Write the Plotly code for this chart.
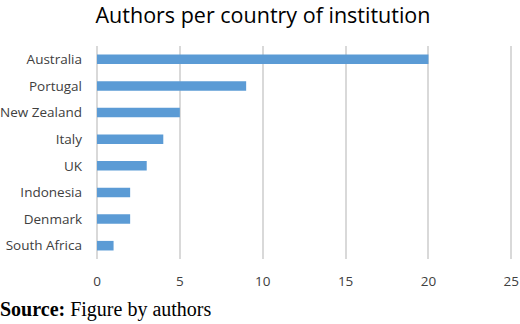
import plotly.graph_objects as go

countries = ["Australia", "Portugal", "New Zealand", "Italy", "UK", "Indonesia", "Denmark", "South Africa"]
authors = [20, 9, 5, 4, 3, 2, 2, 1]
x_ticks = [0, 5, 10, 15, 20, 25]

W, H = 520, 324
L, R, T, B = 97, 7, 46, 65

fig = go.Figure(go.Bar(
    x=authors, y=countries, orientation="h",
    marker=dict(color="#5B9BD5", line=dict(width=0)),
    width=0.36,
))

fig.update_layout(
    width=W, height=H,
    margin=dict(l=L, r=R, t=T, b=B, autoexpand=False),
    paper_bgcolor="white", plot_bgcolor="white",
    font=dict(family="Open Sans, Noto Sans, sans-serif", color="#595959", size=13.5),
    title=dict(text="Authors per country of institution", x=263 / W, xanchor="center",
               y=1 - 15 / H, yanchor="middle", xref="container", yref="container",
               font=dict(size=21.5, color="#000000", family="Open Sans, Noto Sans, sans-serif")),
    showlegend=False,
)
fig.update_xaxes(range=[0, 25.1], tickvals=x_ticks, showgrid=True, gridcolor="#D9D9D9",
                 gridwidth=1.5, zeroline=True, zerolinecolor="#D9D9D9", zerolinewidth=1.5,
                 showline=False, automargin=False,
                 ticks="", ticklabelstandoff=12, tickfont=dict(size=13.5, color="#404040"))
fig.update_yaxes(categoryorder="array", categoryarray=countries, autorange="reversed",
                 showgrid=False, ticks="", ticklabelstandoff=14, automargin=False,
                 tickfont=dict(size=13.5, color="#404040"))

ph = H - T - B
pw = W - L - R
fig.add_annotation(
    text="<b>Source:</b> Figure by authors",
    xref="paper", yref="paper",
    x=(-2 - L) / pw, y=(H - B - 309) / ph,
    xanchor="left", yanchor="middle", showarrow=False,
    font=dict(family="Liberation Serif, Times New Roman, serif", size=20, color="#000000"),
)

fig.write_html("out.html")
